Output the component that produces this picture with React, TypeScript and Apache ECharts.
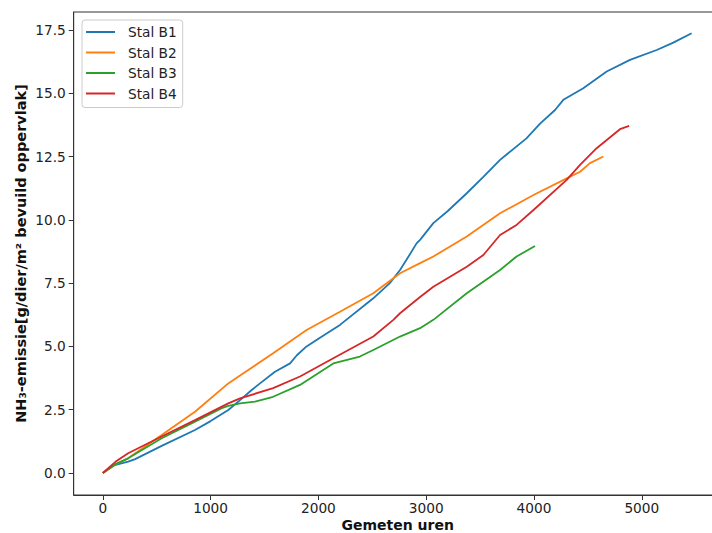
import React, { useEffect, useRef } from "react";
import * as echarts from "echarts";

const seriesNames = ["Stal B1", "Stal B2", "Stal B3", "Stal B4"];
const seriesColors = ["#1f77b4", "#ff7f0e", "#2ca02c", "#d62728"];

const b1Hours = [0, 100, 235, 300, 546, 855, 1000, 1164, 1273, 1381, 1458, 1597, 1737, 1800, 1890, 2000, 2200, 2509, 2662, 2757, 2817, 2912, 2943, 3066, 3200, 3376, 3530, 3685, 3930, 4056, 4195, 4272, 4457, 4674, 4890, 5138, 5292, 5462];
const b1Values = [0, 0.3, 0.45, 0.55, 1.07, 1.7, 2.05, 2.49, 2.88, 3.28, 3.54, 4.0, 4.33, 4.65, 5.0, 5.3, 5.85, 6.9, 7.5, 8.02, 8.42, 9.08, 9.21, 9.87, 10.35, 11.05, 11.7, 12.37, 13.22, 13.8, 14.34, 14.74, 15.2, 15.86, 16.32, 16.71, 17.0, 17.37];

const b2Hours = [0, 120, 235, 546, 855, 1164, 1273, 1580, 1890, 2200, 2509, 2695, 2757, 2943, 3066, 3376, 3685, 3995, 4303, 4427, 4519, 4643];
const b2Values = [0, 0.35, 0.58, 1.5, 2.42, 3.54, 3.85, 4.73, 5.65, 6.37, 7.1, 7.69, 7.89, 8.29, 8.55, 9.34, 10.26, 10.98, 11.64, 11.9, 12.24, 12.5];

const b3Hours = [0, 120, 235, 546, 855, 1103, 1164, 1273, 1412, 1580, 1829, 2138, 2384, 2509, 2757, 2943, 3066, 3376, 3685, 3838, 4009];
const b3Values = [0, 0.35, 0.58, 1.37, 2.03, 2.56, 2.65, 2.75, 2.82, 3.01, 3.48, 4.33, 4.6, 4.86, 5.39, 5.72, 6.05, 7.1, 8.02, 8.55, 8.97];

const b4Hours = [0, 120, 235, 546, 855, 1164, 1273, 1580, 1829, 2138, 2509, 2695, 2757, 2943, 3066, 3376, 3530, 3685, 3838, 3995, 4303, 4427, 4581, 4797, 4883];
const b4Values = [0, 0.45, 0.78, 1.44, 2.09, 2.75, 2.95, 3.35, 3.81, 4.53, 5.39, 6.05, 6.31, 6.95, 7.36, 8.15, 8.61, 9.4, 9.8, 10.39, 11.58, 12.17, 12.83, 13.58, 13.71];

const xTicks = [0, 1000, 2000, 3000, 4000, 5000];
const yTicks = [0, 2.5, 5, 7.5, 10, 12.5, 15, 17.5];

const FONT = "DejaVu Sans";

export default function App() {
  const ref = useRef<HTMLDivElement>(null);
  useEffect(() => {
    if (!ref.current) return;
    const chart = echarts.init(ref.current, undefined, { renderer: "svg" });
    const all = [
      [b1Hours, b1Values],
      [b2Hours, b2Values],
      [b3Hours, b3Values],
      [b4Hours, b4Values],
    ];
    chart.setOption({
      animation: false,
      backgroundColor: "#ffffff",
      textStyle: { fontFamily: FONT },
      grid: {
        left: 73.7,
        right: -9.6,
        top: 12,
        bottom: 38,
        containLabel: false,
        outerBoundsMode: "none",
        show: true,
        borderColor: "#333",
        borderWidth: 1,
      },
      legend: {
        orient: "vertical",
        left: 82,
        top: 20,
        data: seriesNames,
        icon: "rect",
        itemWidth: 29,
        itemHeight: 2,
        itemGap: 6.5,
        padding: [5, 6, 7, 4],
        borderColor: "#cccccc",
        borderWidth: 1,
        borderRadius: 3,
        backgroundColor: "rgba(255,255,255,0.8)",
        textStyle: {
          fontFamily: FONT,
          fontSize: 13.7,
          color: "#222",
          lineHeight: 14,
          padding: [0, 0, 0, 8],
        },
      },
      xAxis: {
        type: "value",
        min: -270,
        max: 5740,
        name: "Gemeten uren",
        nameLocation: "middle",
        nameGap: 23,
        nameMoveOverlap: false,
        nameTextStyle: { fontFamily: FONT, fontSize: 14, fontWeight: "bold", color: "#111", lineHeight: 14 },
        axisLine: { show: true, onZero: false, lineStyle: { color: "#333", width: 1 } },
        axisTick: { show: true, length: 5, customValues: xTicks, lineStyle: { color: "#333" } },
        axisLabel: {
          customValues: xTicks,
          formatter: (v: number) => String(v),
          fontFamily: FONT,
          fontSize: 13.7,
          color: "#222",
          margin: 6,
          lineHeight: 14,
        },
        splitLine: { show: false },
      },
      yAxis: {
        type: "value",
        min: -0.869,
        max: 18.21,
        name: "NH₃-emissie[g/dier/m² bevuild oppervlak]",
        nameLocation: "middle",
        nameRotate: 90,
        nameGap: 45,
        nameMoveOverlap: false,
        nameTextStyle: { fontFamily: FONT, fontSize: 14.5, fontWeight: "bold", color: "#111" },
        axisLine: { show: true, onZero: false, lineStyle: { color: "#333", width: 1 } },
        axisTick: { show: true, length: 5, customValues: yTicks, lineStyle: { color: "#333" } },
        axisLabel: {
          customValues: yTicks,
          formatter: (v: number) => v.toFixed(1),
          fontFamily: FONT,
          fontSize: 13.7,
          color: "#222",
          margin: 8,
        },
        splitLine: { show: false },
      },
      series: all.map(([hours, values], i) => ({
        name: seriesNames[i],
        type: "line",
        data: hours.map((h, j) => [h, values[j]]),
        symbol: "none",
        showSymbol: false,
        lineStyle: { color: seriesColors[i], width: 1.8 },
        itemStyle: { color: seriesColors[i] },
        z: 2 + i,
      })),
    });
    return () => chart.dispose();
  }, []);
  return <div ref={ref} style={{ width: 712, height: 533, position: "absolute", left: 0, top: 0 }} />;
}
